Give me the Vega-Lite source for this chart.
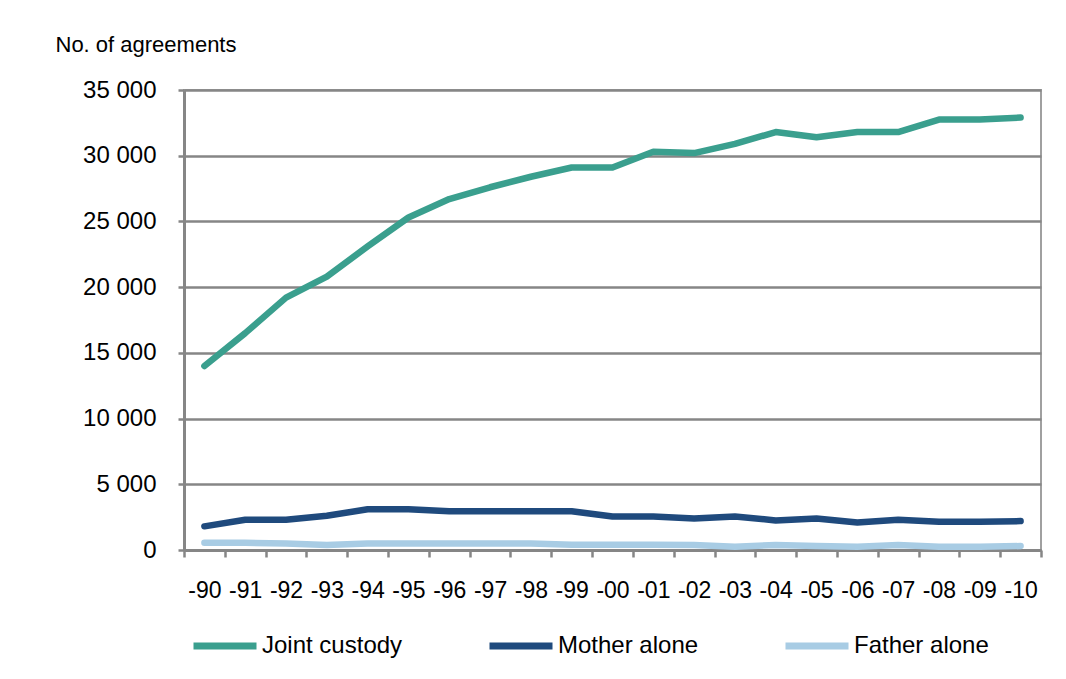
{
  "$schema": "https://vega.github.io/schema/vega-lite/v6.json",
  "width": 857,
  "height": 460,
  "autosize": {"type": "none"},
  "padding": {"left": 184, "top": 90, "right": 25, "bottom": 129},
  "background": "white",
  "config": {
    "font": "Liberation Sans",
    "view": {"stroke": "#a0a0a0", "strokeWidth": 2}
  },
  "data": {
    "values": [
      {"year": "-90", "series": "Joint custody", "value": 14000},
      {"year": "-91", "series": "Joint custody", "value": 16500},
      {"year": "-92", "series": "Joint custody", "value": 19200},
      {"year": "-93", "series": "Joint custody", "value": 20800},
      {"year": "-94", "series": "Joint custody", "value": 23100},
      {"year": "-95", "series": "Joint custody", "value": 25300},
      {"year": "-96", "series": "Joint custody", "value": 26700},
      {"year": "-97", "series": "Joint custody", "value": 27600},
      {"year": "-98", "series": "Joint custody", "value": 28400},
      {"year": "-99", "series": "Joint custody", "value": 29100},
      {"year": "-00", "series": "Joint custody", "value": 29100},
      {"year": "-01", "series": "Joint custody", "value": 30300},
      {"year": "-02", "series": "Joint custody", "value": 30200},
      {"year": "-03", "series": "Joint custody", "value": 30900},
      {"year": "-04", "series": "Joint custody", "value": 31800},
      {"year": "-05", "series": "Joint custody", "value": 31400},
      {"year": "-06", "series": "Joint custody", "value": 31800},
      {"year": "-07", "series": "Joint custody", "value": 31800},
      {"year": "-08", "series": "Joint custody", "value": 32750},
      {"year": "-09", "series": "Joint custody", "value": 32750},
      {"year": "-10", "series": "Joint custody", "value": 32900},
      {"year": "-90", "series": "Mother alone", "value": 1800},
      {"year": "-91", "series": "Mother alone", "value": 2300},
      {"year": "-92", "series": "Mother alone", "value": 2300},
      {"year": "-93", "series": "Mother alone", "value": 2600},
      {"year": "-94", "series": "Mother alone", "value": 3100},
      {"year": "-95", "series": "Mother alone", "value": 3100},
      {"year": "-96", "series": "Mother alone", "value": 2950},
      {"year": "-97", "series": "Mother alone", "value": 2950},
      {"year": "-98", "series": "Mother alone", "value": 2950},
      {"year": "-99", "series": "Mother alone", "value": 2950},
      {"year": "-00", "series": "Mother alone", "value": 2550},
      {"year": "-01", "series": "Mother alone", "value": 2550},
      {"year": "-02", "series": "Mother alone", "value": 2400},
      {"year": "-03", "series": "Mother alone", "value": 2550},
      {"year": "-04", "series": "Mother alone", "value": 2250},
      {"year": "-05", "series": "Mother alone", "value": 2400},
      {"year": "-06", "series": "Mother alone", "value": 2100},
      {"year": "-07", "series": "Mother alone", "value": 2300},
      {"year": "-08", "series": "Mother alone", "value": 2150},
      {"year": "-09", "series": "Mother alone", "value": 2150},
      {"year": "-10", "series": "Mother alone", "value": 2200},
      {"year": "-90", "series": "Father alone", "value": 550},
      {"year": "-91", "series": "Father alone", "value": 550},
      {"year": "-92", "series": "Father alone", "value": 500},
      {"year": "-93", "series": "Father alone", "value": 380},
      {"year": "-94", "series": "Father alone", "value": 500},
      {"year": "-95", "series": "Father alone", "value": 500},
      {"year": "-96", "series": "Father alone", "value": 500},
      {"year": "-97", "series": "Father alone", "value": 500},
      {"year": "-98", "series": "Father alone", "value": 500},
      {"year": "-99", "series": "Father alone", "value": 400},
      {"year": "-00", "series": "Father alone", "value": 400},
      {"year": "-01", "series": "Father alone", "value": 400},
      {"year": "-02", "series": "Father alone", "value": 380},
      {"year": "-03", "series": "Father alone", "value": 250},
      {"year": "-04", "series": "Father alone", "value": 380},
      {"year": "-05", "series": "Father alone", "value": 300},
      {"year": "-06", "series": "Father alone", "value": 250},
      {"year": "-07", "series": "Father alone", "value": 380},
      {"year": "-08", "series": "Father alone", "value": 250},
      {"year": "-09", "series": "Father alone", "value": 250},
      {"year": "-10", "series": "Father alone", "value": 300}
    ]
  },
  "mark": {"type": "line", "strokeWidth": 6.5, "strokeCap": "round", "strokeJoin": "round"},
  "encoding": {
    "x": {
      "field": "year",
      "type": "ordinal",
      "sort": null,
      "bandPosition": 0.5,
      "scale": {"type": "band", "paddingInner": 0, "paddingOuter": 0},
      "axis": {
        "title": null,
        "labelAngle": 0,
        "labelFontSize": 23,
        "labelColor": "black",
        "labelPadding": 22,
        "tickBand": "extent",
        "tickSize": 7,
        "tickColor": "#868686",
        "tickWidth": 2.5,
        "domainColor": "#868686",
        "domainWidth": 3,
        "grid": false
      }
    },
    "y": {
      "field": "value",
      "type": "quantitative",
      "scale": {"domain": [0, 35000]},
      "axis": {
        "values": [0, 5000, 10000, 15000, 20000, 25000, 30000, 35000],
        "labelExpr": "replace(format(datum.value, ','), ',', ' ')",
        "labelFontSize": 24,
        "labelColor": "black",
        "labelPadding": 22,
        "tickSize": 6,
        "tickColor": "#868686",
        "tickWidth": 2.5,
        "domainColor": "#868686",
        "domainWidth": 3,
        "grid": true,
        "gridColor": "#868686",
        "gridWidth": 2.5,
        "title": "No. of agreements",
        "titleAngle": 0,
        "titleAlign": "left",
        "titleBaseline": "alphabetic",
        "titleX": -129,
        "titleY": -39,
        "titleFontSize": 22,
        "titleFontWeight": "normal",
        "titleColor": "black"
      }
    },
    "color": {
      "field": "series",
      "type": "nominal",
      "sort": ["Joint custody", "Mother alone", "Father alone"],
      "scale": {
        "domain": ["Joint custody", "Mother alone", "Father alone"],
        "range": ["#3a9f8e", "#1f4a7d", "#a8cce4"]
      },
      "legend": {
        "title": null,
        "orient": "none",
        "direction": "horizontal",
        "columns": 3,
        "legendX": 6,
        "legendY": 521,
        "symbolType": "stroke",
        "symbolSize": 3969,
        "symbolStrokeWidth": 7,
        "labelFontSize": 24,
        "labelColor": "black",
        "labelOffset": 2,
        "columnPadding": 72
      }
    }
  }
}
